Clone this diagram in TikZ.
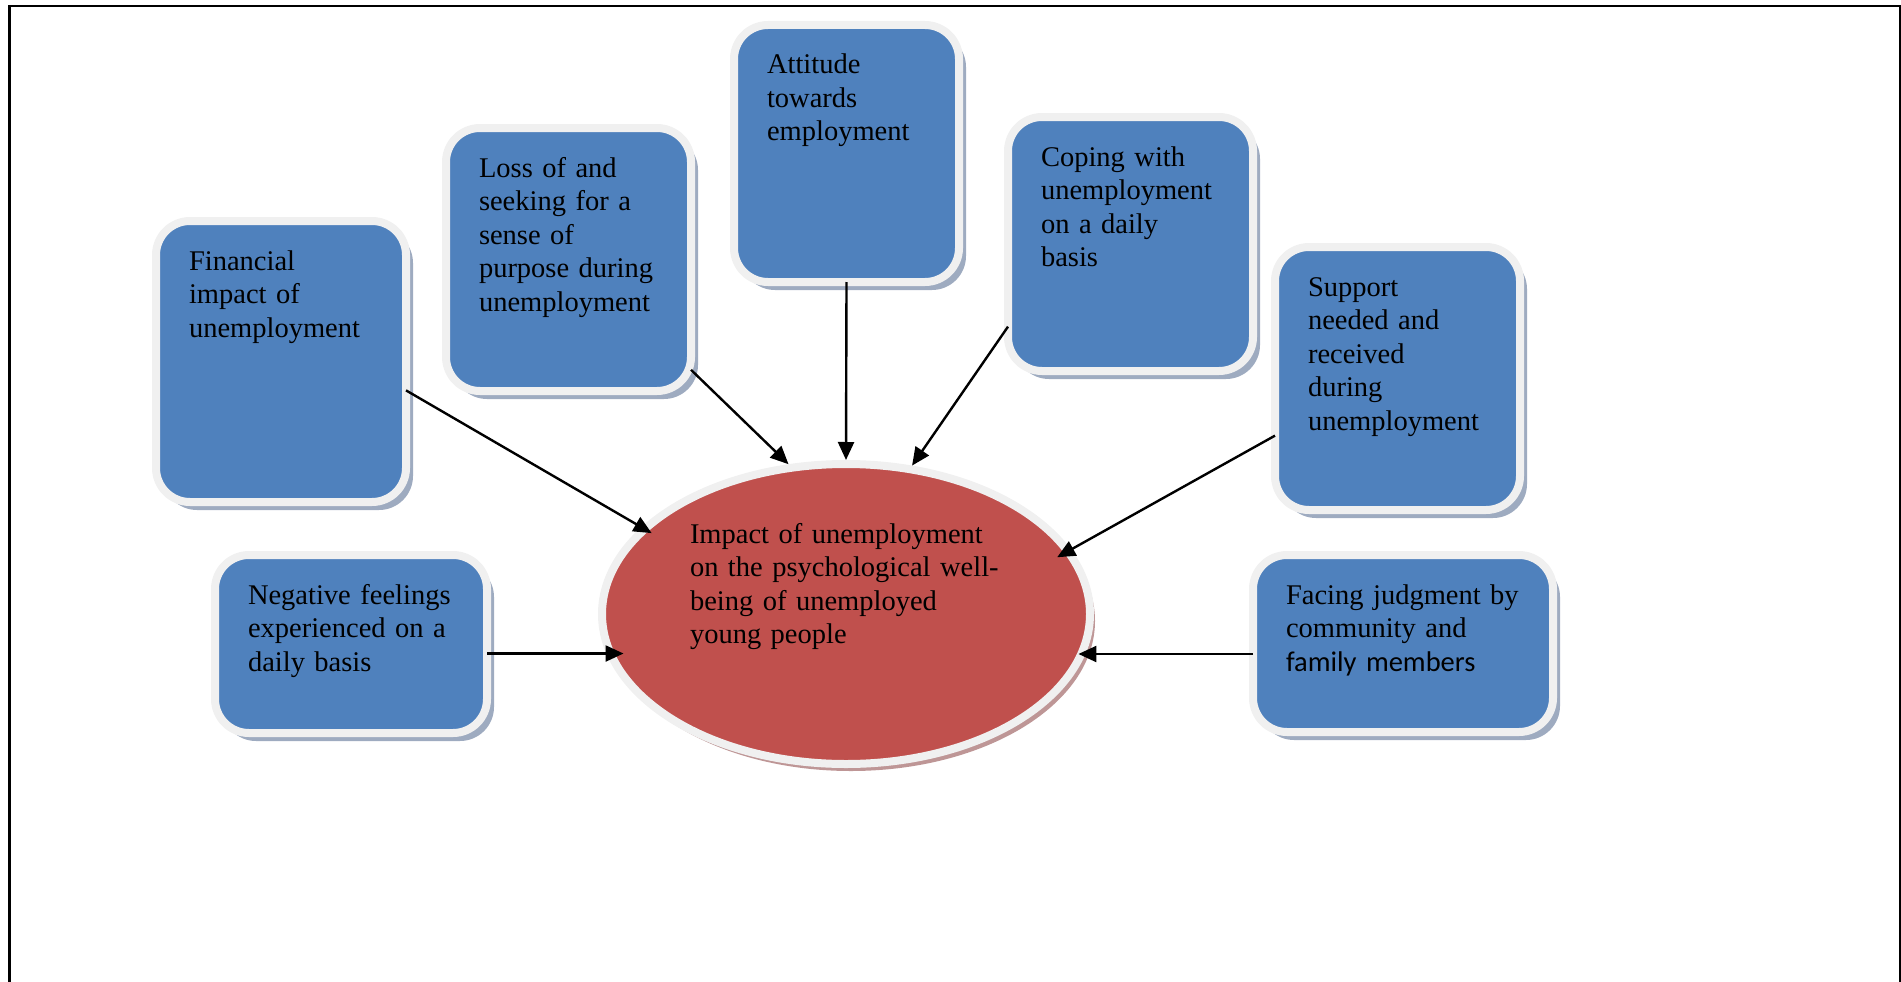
\documentclass[tikz,border=0pt]{standalone}
\usepackage{fontspec}
\setmainfont{Liberation Serif}
\newfontfamily\carlito{Carlito}
\usetikzlibrary{arrows.meta,shapes.geometric,shadows}
\definecolor{topicblue}{RGB}{79,129,189}
\definecolor{corered}{RGB}{192,80,77}
\definecolor{rimwhite}{RGB}{240,240,240}
\definecolor{topicshade}{RGB}{158,171,192}
\definecolor{coreshade}{RGB}{190,150,150}

\begin{document}
\begin{tikzpicture}[x=1pt,y=-1pt,
    topic/.style 2 args={rectangle,rounded corners=34pt,fill=topicblue,draw=rimwhite,
        line width=8pt,anchor=north west,inner sep=0pt,outer sep=0pt,align=left,
        font=\fontsize{28.5}{33.5}\selectfont,text width=#1,text height=49pt,text depth=#2,
        execute at begin node={\leftskip=33pt},
        drop shadow={shadow xshift=7pt,shadow yshift=-8pt,fill=topicshade,opacity=1}},
    core/.style={ellipse,fill=corered,draw=rimwhite,line width=8pt,inner sep=0pt,
        minimum width=488pt,minimum height=300pt,align=left,text width=312pt,
        text height=20pt,text depth=162pt,font=\fontsize{28.5}{33.5}\selectfont,
        drop shadow={shadow xshift=5pt,shadow yshift=-7pt,fill=coreshade,opacity=1}},
    link/.style={line width=2.4pt,-{Triangle[length=18pt,width=16pt]}}]
    \useasboundingbox (0,0) rectangle (1901,982);
    \draw[line width=2.5pt] (9.5,982) -- (9.5,6) -- (1900,6) -- (1900,982);
    % the seven themes
    \node[topic={250pt}{232pt}] (fin) at (156,221)
    {Financial\\impact of\\unemployment};
    \node[topic={245pt}{214pt}] (loss) at (446,128)
    {Loss of and\\seeking for a\\sense of\\purpose during\\unemployment};
    \node[topic={225pt}{208pt}] (att) at (734,25)
    {Attitude\\towards\\employment};
    \node[topic={245pt}{205pt}] (cop) at (1008,117)
    {Coping with\\unemployment\\on a daily\\basis};
    \node[topic={245pt}{214pt}] (sup) at (1275,247)
    {Support\\needed and\\received\\during\\unemployment};
    \node[topic={272pt}{129pt}] (neg) at (215,555)
    {Negative feelings\\experienced on a\\daily basis};
    \node[topic={300pt}{128pt}] (fac) at (1253,555)
    {Facing judgment by\\community and\\{\carlito family members}};
    % central theme
    \node[core] (imp) at (846,614)
    {Impact of unemployment\\on the psychological well-\\being of unemployed\\young people};
    \draw[link,shorten >=-12pt] (fin.-13) -- (imp.157);
    \draw[link] (loss.-42) -- (imp.111);
    \draw[link] (att.south) -- (imp.north);
    \draw[link] (cop.214) -- (imp.66);
    \draw[link,shorten >=-16pt] (sup.205) -- (imp.16);
    \draw[link] (neg.-4) -- (neg.-4 -| imp.-163);
    \draw[link] (fac.184) -- (fac.184 -| imp.-13);
\end{tikzpicture}
\end{document}
